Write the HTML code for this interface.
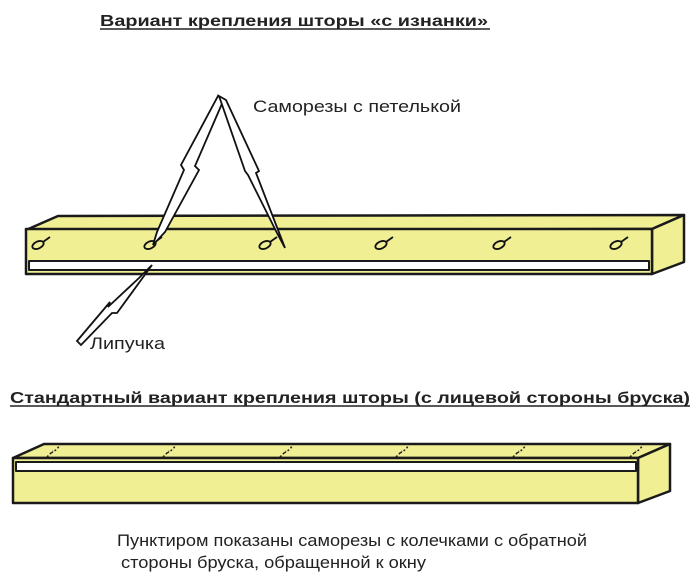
<!DOCTYPE html>
<html><head><meta charset="utf-8"><style>
body{margin:0;background:#fff;width:700px;height:578px;overflow:hidden}
svg{display:block}
text{font-family:"Liberation Sans",sans-serif;fill:#222}
</style></head><body>
<svg width="700" height="578" viewBox="0 0 700 578">
<text x="100" y="26" font-size="16" font-weight="bold" textLength="388" lengthAdjust="spacingAndGlyphs">Вариант крепления шторы «с изнанки»</text>
<line x1="100" y1="29" x2="490" y2="29" stroke="#222" stroke-width="1.5"/>
<text x="253" y="112" font-size="17" textLength="208" lengthAdjust="spacingAndGlyphs">Саморезы с петелькой</text>
<!-- bar 1 -->
<g stroke="#1a1a1a" stroke-width="2.5" stroke-linejoin="round">
<polygon points="26,230 58,216 684,215 652,229" fill="#f1ef94"/>
<polygon points="652,229 684,215 684,262 652,274" fill="#f1ef94"/>
<rect x="26" y="229" width="626" height="45" fill="#f1ef94"/>
<rect x="29" y="261" width="620" height="9" fill="#fff" stroke-width="2"/>
</g>
<g fill="none" stroke="#111" stroke-width="1.8">
<g transform="translate(38,245)"><ellipse cx="0" cy="0" rx="6" ry="3.5" transform="rotate(-25)"/><line x1="5" y1="-3" x2="12" y2="-8"/></g>
<g transform="translate(150,245)"><ellipse cx="0" cy="0" rx="6" ry="3.5" transform="rotate(-25)"/><line x1="5" y1="-3" x2="12" y2="-8"/></g>
<g transform="translate(265,245)"><ellipse cx="0" cy="0" rx="6" ry="3.5" transform="rotate(-25)"/><line x1="5" y1="-3" x2="12" y2="-8"/></g>
<g transform="translate(381,245)"><ellipse cx="0" cy="0" rx="6" ry="3.5" transform="rotate(-25)"/><line x1="5" y1="-3" x2="12" y2="-8"/></g>
<g transform="translate(499,245)"><ellipse cx="0" cy="0" rx="6" ry="3.5" transform="rotate(-25)"/><line x1="5" y1="-3" x2="12" y2="-8"/></g>
<g transform="translate(616,245)"><ellipse cx="0" cy="0" rx="6" ry="3.5" transform="rotate(-25)"/><line x1="5" y1="-3" x2="12" y2="-8"/></g>
</g>
<!-- arrows -->
<g fill="#fff" stroke="#111" stroke-width="1.8" stroke-linejoin="miter">
<polygon points="218,96 224,99 195,166 199,170 165,232 153,245 157,232 184,170 181,165"/>
<polygon points="219,96 226,100 259,171 256,173 285,248 277,233 248,175 245,171"/>
<polygon points="77,341 81,345 112,313 117,313 152,265 139,278 108,307 110,302"/>
</g>
<text x="90" y="349" font-size="17" textLength="75" lengthAdjust="spacingAndGlyphs">Липучка</text>
<text x="10" y="403" font-size="16" font-weight="bold" textLength="680" lengthAdjust="spacingAndGlyphs">Стандартный вариант крепления шторы (с лицевой стороны бруска)</text>
<line x1="10" y1="406" x2="690" y2="406" stroke="#222" stroke-width="1.5"/>
<!-- bar 2 -->
<g stroke="#1a1a1a" stroke-width="2.5" stroke-linejoin="round">
<polygon points="13,458 44,444 670,444 638,458" fill="#f1ef94"/>
<polygon points="638,458 670,444 670,491 638,503" fill="#f1ef94"/>
<rect x="13" y="458" width="625" height="45" fill="#f1ef94"/>
<rect x="16" y="462" width="620" height="9" fill="#fff" stroke-width="2"/>
</g>
<g fill="none" stroke="#222" stroke-width="1.5" stroke-dasharray="2,2">
<path d="M47,457 L53,451 M51,453 q6,-3 8,-7 q-1,-4 -5,-2"/>
<path d="M163,457 L169,451 M167,453 q6,-3 8,-7 q-1,-4 -5,-2"/>
<path d="M280,457 L286,451 M284,453 q6,-3 8,-7 q-1,-4 -5,-2"/>
<path d="M396,457 L402,451 M400,453 q6,-3 8,-7 q-1,-4 -5,-2"/>
<path d="M513,457 L519,451 M517,453 q6,-3 8,-7 q-1,-4 -5,-2"/>
<path d="M630,457 L636,451 M634,453 q6,-3 8,-7 q-1,-4 -5,-2"/>
</g>
<text x="117" y="546" font-size="17" textLength="470" lengthAdjust="spacingAndGlyphs">Пунктиром показаны саморезы с колечками с обратной</text>
<text x="121" y="568" font-size="17" textLength="305" lengthAdjust="spacingAndGlyphs">стороны бруска, обращенной к окну</text>
</svg>
</body></html>
